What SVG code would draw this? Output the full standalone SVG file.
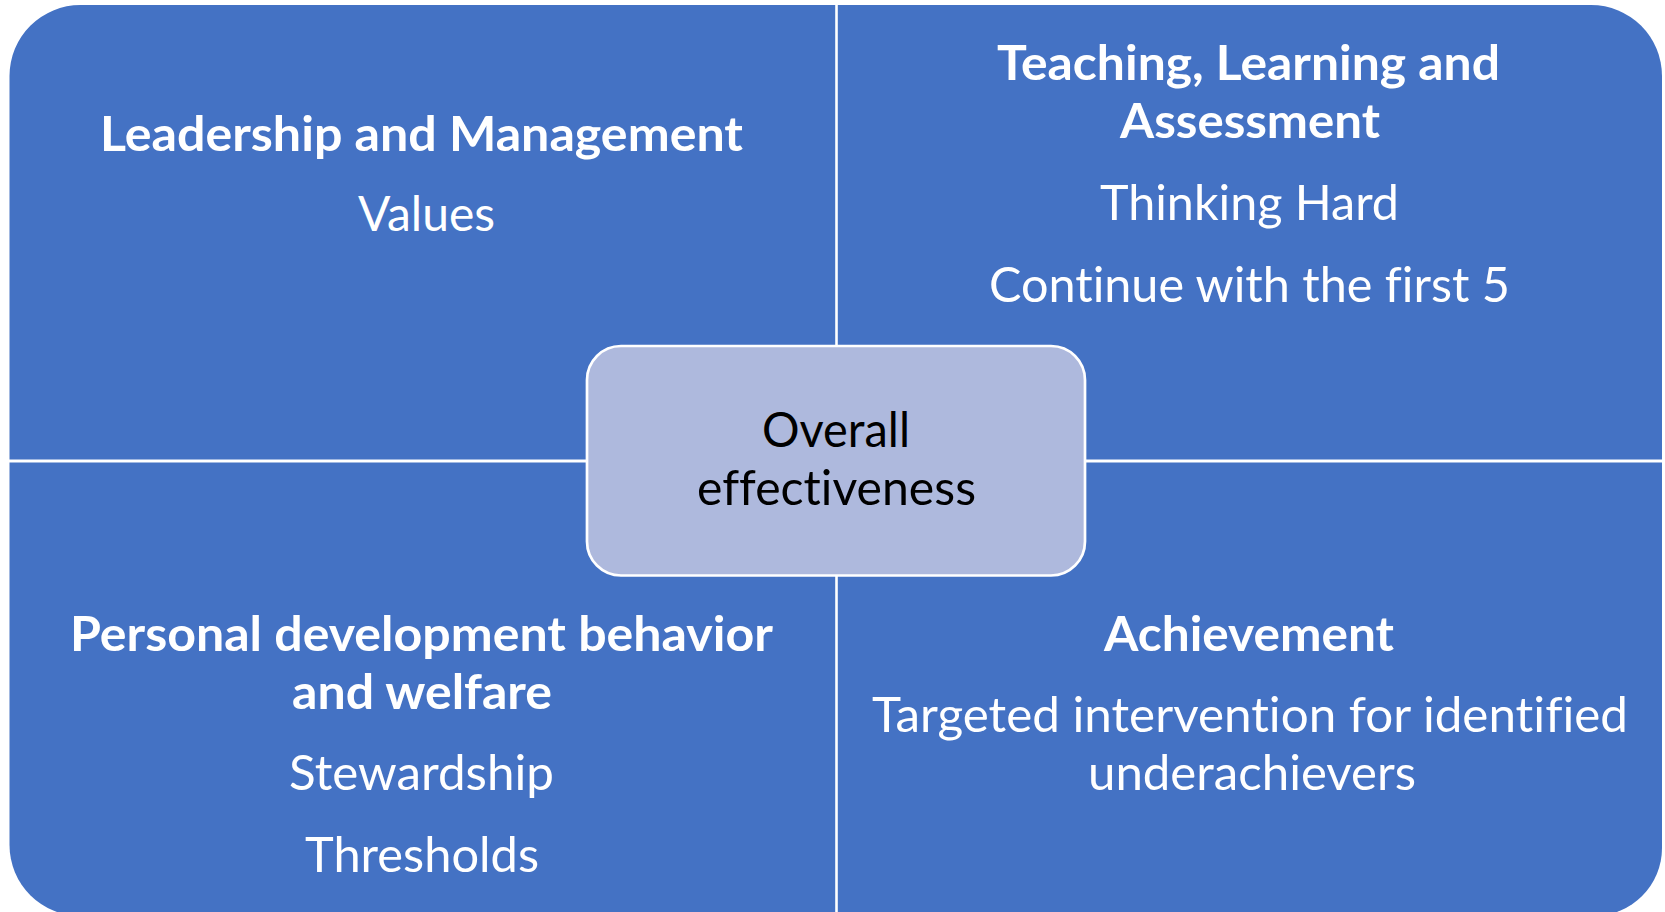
<svg xmlns="http://www.w3.org/2000/svg" width="1665" height="912" viewBox="0 0 1665 912">
  <style>
    .quad { fill: #4472C4; }
    .hub { fill: #AEB9DD; stroke: #FFFFFF; stroke-width: 2.7; }
    text { font-family: Lato, "Open Sans", "Liberation Sans", sans-serif; font-size: 48px; text-anchor: middle; font-variant-ligatures: none; }
    .head { fill: #FFFFFF; font-weight: 700; }
    .item { fill: #FFFFFF; font-weight: 400; }
    .hubtext { fill: #000000; font-weight: 400; }
  </style>
  <rect width="1665" height="912" fill="#FFFFFF"/>

  <!-- four quadrants, each with one rounded outer corner -->
  <g id="quad-leadership">
    <path class="quad" d="M9.5,459.5 V76 A71,71 0 0 1 80.5,5 H835.2 V459.5 Z"/>
    <text class="head" x="421.5" y="151" textLength="643" lengthAdjust="spacingAndGlyphs">Leadership and Management</text>
    <text class="item" x="426.5" y="231" textLength="137" lengthAdjust="spacingAndGlyphs">Values</text>
  </g>

  <g id="quad-teaching">
    <path class="quad" d="M837.8,5 H1591 A71,71 0 0 1 1662,76 V459.5 H837.8 Z"/>
    <text class="head" x="1248.5" y="80" textLength="503" lengthAdjust="spacingAndGlyphs">Teaching, Learning and</text>
    <text class="head" x="1250" y="138" textLength="260" lengthAdjust="spacingAndGlyphs">Assessment</text>
    <text class="item" x="1249.5" y="220" textLength="299" lengthAdjust="spacingAndGlyphs">Thinking Hard</text>
    <text class="item" x="1249.5" y="302" textLength="521" lengthAdjust="spacingAndGlyphs">Continue with the first 5</text>
  </g>

  <g id="quad-personal">
    <path class="quad" d="M9.5,462.5 H835.2 V916 H80.5 A71,71 0 0 1 9.5,845 Z"/>
    <text class="head" x="421.5" y="651" textLength="703" lengthAdjust="spacingAndGlyphs">Personal development behavior</text>
    <text class="head" x="422" y="709" textLength="260" lengthAdjust="spacingAndGlyphs">and welfare</text>
    <text class="item" x="421.5" y="790" textLength="265" lengthAdjust="spacingAndGlyphs">Stewardship</text>
    <text class="item" x="422" y="872" textLength="234" lengthAdjust="spacingAndGlyphs">Thresholds</text>
  </g>

  <g id="quad-achievement">
    <path class="quad" d="M837.8,462.5 H1662 V848 A68,68 0 0 1 1594,916 H837.8 Z"/>
    <text class="head" x="1249" y="651" textLength="290" lengthAdjust="spacingAndGlyphs">Achievement</text>
    <text class="item" x="1250" y="732" textLength="756" lengthAdjust="spacingAndGlyphs">Targeted intervention for identified</text>
    <text class="item" x="1252" y="790" textLength="328" lengthAdjust="spacingAndGlyphs">underachievers</text>
  </g>

  <!-- centre hub -->
  <g id="hub-overall">
    <rect class="hub" x="587" y="346" width="498" height="229.5" rx="34" ry="34"/>
    <text class="hubtext" x="836" y="447" textLength="148" lengthAdjust="spacingAndGlyphs">Overall</text>
    <text class="hubtext" x="836.5" y="505" textLength="279" lengthAdjust="spacingAndGlyphs">effectiveness</text>
  </g>

  <g id="connectors"></g>
</svg>
